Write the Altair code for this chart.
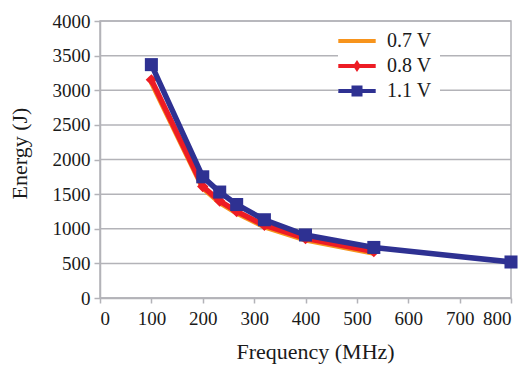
import altair as alt
import pandas as pd

series = ["0.7 V", "0.8 V", "1.1 V"]
colors = ["#F7941D", "#ED1C24", "#2E3192"]

freq_07 = [100, 200, 233, 266, 320, 400, 533]
energy_07 = [3120, 1590, 1380, 1230, 1030, 840, 650]
freq_08 = [100, 200, 233, 266, 320, 400, 533]
energy_08 = [3150, 1610, 1400, 1250, 1050, 860, 670]
freq_11 = [100, 200, 233, 266, 320, 400, 533, 800]
energy_11 = [3370, 1750, 1530, 1350, 1130, 910, 730, 520]

x_ticks = [0, 100, 200, 300, 400, 500, 600, 700, 800]
y_ticks = [0, 500, 1000, 1500, 2000, 2500, 3000, 3500, 4000]

rows = []
for s, fs, es in [(series[0], freq_07, energy_07), (series[1], freq_08, energy_08), (series[2], freq_11, energy_11)]:
    for f, e in zip(fs, es):
        rows.append({"Voltage": s, "Frequency": f, "Energy": e})
df = pd.DataFrame(rows)
grid_df = pd.DataFrame({"Energy": y_ticks})

FONT = "'Liberation Serif', 'Times New Roman', serif"
GRID = "#b3b3b8"
TEXT = "#1a1a1a"

line_path = "M-1.7,-0.18H1.7V0.18H-1.7Z"
shape_signal = (
    "datum.value === '0.7 V' ? '" + line_path + "' : "
    "datum.value === '0.8 V' ? '" + line_path + " M0,-0.55L0.36,0L0,0.55L-0.36,0Z' : '"
    + line_path + " M-0.5,-0.5H0.5V0.5H-0.5Z'"
)
fill_signal = "scale('color', datum.value)"

color_scale = alt.Scale(domain=series, range=colors)
x_scale = alt.Scale(domain=[0, 800], nice=False)
y_scale = alt.Scale(domain=[0, 4000], nice=False)

y_axis = alt.Axis(values=y_ticks, grid=False, tickSize=6, labelPadding=4,
                  titlePadding=21, titleY=132, format="d", labelOverlap=False)

x_enc = alt.X("Frequency:Q", title="Frequency (MHz)", scale=x_scale,
              axis=alt.Axis(values=x_ticks, grid=False, tickSize=5, labelPadding=6,
                            titlePadding=13, titleX=215, format="d", labelOverlap=False))
y_enc = alt.Y("Energy:Q", title="Energy (J)", scale=y_scale, axis=y_axis)

legend = alt.Legend(
    title=None, orient="none", legendX=238, legendY=1,
    fillColor="white", padding=8, symbolSize=484, labelFontSize=20,
    labelFont=FONT, labelColor=TEXT, labelOffset=19, rowPadding=4,
    labelExpr="datum.label + '\u00a0\u00a0\u00a0\u00a0\u00a0\u00a0'",
    symbolType=alt.ExprRef(expr=shape_signal),
    symbolFillColor=alt.ExprRef(expr=fill_signal),
    symbolStrokeWidth=0, symbolOpacity=1,
)

gridlines = alt.Chart(grid_df).mark_rule(color=GRID, strokeWidth=1.5).encode(y=y_enc)

layers = [gridlines]
base = alt.Chart(df)
for i, s in enumerate(series):
    d = base.transform_filter(alt.datum.Voltage == s)
    ln = d.mark_line(strokeWidth=5.5).encode(
        x=x_enc, y=y_enc,
        color=alt.Color("Voltage:N", scale=color_scale, legend=legend if i == 0 else None),
    )
    layers.append(ln)
    if s == "0.8 V":
        layers.append(d.mark_point(shape="diamond", filled=True, size=130, opacity=1).encode(
            x=x_enc, y=y_enc,
            color=alt.Color("Voltage:N", scale=color_scale, legend=None)))
    if s == "1.1 V":
        layers.append(d.mark_point(shape="square", filled=True, size=170, opacity=1).encode(
            x=x_enc, y=y_enc,
            color=alt.Color("Voltage:N", scale=color_scale, legend=None)))

chart = alt.layer(*layers).properties(
    width=411, height=277,
    autosize=alt.AutoSizeParams(type="none"),
    padding={"left": 92, "top": 13, "right": 8, "bottom": 66},
).configure_view(
    stroke=GRID, strokeWidth=1.5,
).configure_axis(
    labelFont=FONT, titleFont=FONT, labelFontSize=19, titleFontSize=22,
    labelColor=TEXT, titleColor=TEXT, titleFontWeight="normal",
    domainColor=GRID, domainWidth=1.5,
    tickColor=GRID, tickWidth=1.5,
)

chart.save("out.html", embed_options={"renderer": "svg", "actions": False})
